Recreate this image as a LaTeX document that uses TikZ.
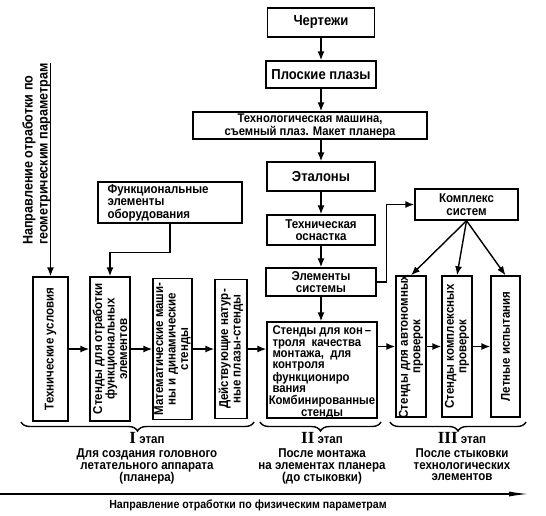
\documentclass[tikz,border=0pt]{standalone}
\usepackage{fontspec}
\setmainfont{Liberation Sans}[FakeStretch=0.9]
\newfontfamily\romfont{Liberation Serif}
\usetikzlibrary{arrows.meta,decorations.pathreplacing,calc}
\begin{document}
\begin{tikzpicture}[x=1pt,y=-1pt,
  box/.style={draw, line width=1.4pt, inner sep=0pt},
  txt/.style={font=\bfseries\fontsize{12.8}{12.5}\selectfont, align=center, inner sep=0pt},
  bigtxt/.style={txt, font=\bfseries\fontsize{14.5}{15}\selectfont},
  rot/.style={txt, rotate=90},
  stage/.style={txt, anchor=north, font=\bfseries\fontsize{12.8}{11.6}\selectfont},
  arr/.style={line width=1.4pt, -{Latex[length=9pt,width=7pt]}},
  brc/.style={decorate, decoration={brace, amplitude=9pt}, line width=1.4pt}]
\useasboundingbox (0,0) rectangle (546,515);
% main chain
\node[box,bigtxt,minimum width=107pt,minimum height=29pt] (chert) at (321,22.5) {Чертежи};
\node[box,bigtxt,minimum width=110pt,minimum height=27pt] (plosk) at (321,74.5) {Плоские плазы};
\node[box,txt,minimum width=234pt,minimum height=27pt,font=\bfseries\fontsize{12.5}{13}\selectfont] (tech) at (310,125.5) {Технологическая машина,\\съемный плаз. Макет планера};
\node[box,bigtxt,minimum width=108pt,minimum height=29pt] (etal) at (321,176.5) {Эталоны};
\node[box,txt,minimum width=108pt,minimum height=30pt] (osn) at (321,230) {Техническая\\оснастка};
\node[box,txt,minimum width=110pt,minimum height=28pt] (elem) at (321,282) {Элементы\\системы};
\node[box,txt,minimum width=103pt,minimum height=31pt] (kompl) at (466.5,204.5) {Комплекс\\систем};
\node[box,minimum width=144pt,minimum height=41pt] (func) at (170,202.5) {};
\node[txt,align=left,anchor=west] (functxt) at ($(func.west)+(10,0)$) {Функциональные\\элементы\\оборудования};
% vertical boxes
\node[box,minimum width=35pt,minimum height=144pt] (tu) at (50.5,349) {};
\node[rot] at (tu) {Технические условия};
\node[box,minimum width=40pt,minimum height=144pt] (st1) at (110,349) {};
\node[rot] at (st1) {Стенды для отработки\\функциональных\\элементов};
\node[box,minimum width=39pt,minimum height=141pt] (mat) at (172.5,349) {};
\node[rot] at (mat) {Математические маши-\\ны и динамические\\стенды};
\node[box,minimum width=32pt,minimum height=139pt] (dei) at (231,349) {};
\node[rot] at (dei) {Действующие натур-\\ные плазы-стенды};
\node[box,minimum width=110pt,minimum height=96pt] (kontr) at (322,370) {};
\node[txt,align=left,anchor=north west,font=\bfseries\fontsize{12.6}{11.3}\selectfont] at ($(kontr.north west)+(6,4.5)$) {Стенды для кон\,--\\троля\ \ качества\\монтажа,\ \ для\\контроля\\функциониро\\вания};
\node[txt,font=\bfseries\fontsize{12.6}{11.4}\selectfont] at ($(kontr.south)+(0,-11.5)$) {Комбинированные\\стенды};
\node[box,minimum width=30pt,minimum height=141pt] (a1) at (411,346.5) {};
\node[rot] at (a1) {Стенды для автономных\\проверок};
\node[box,minimum width=30pt,minimum height=141pt] (a2) at (457,346.5) {};
\node[rot] at (a2) {Стенды комплексных\\проверок};
\node[box,minimum width=29pt,minimum height=141pt] (a3) at (505.5,346.5) {};
\node[rot] at (a3) {Летные испытания};
% chain arrows
\draw[arr] (chert) -- (plosk);
\draw[arr] (plosk) -- (plosk |- tech.north);
\draw[arr] (tech.south -| etal) -- (etal);
\draw[arr] (etal) -- (osn);
\draw[arr] (osn) -- (elem);
\draw[arr] (elem) -- (elem |- kontr.north);
\draw[arr] (elem.east) -- ++(10,0) |- (kompl.west);
\draw[arr] (func.south) -- ++(0,29) -| (st1.north);
\draw[arr] (kompl.south) -- (a1.north);
\draw[arr] (kompl.south) -- (a2.north);
\draw[arr] (kompl.south) -- (a3.north);
% horizontal
\draw[arr] (tu) -- (st1);
\draw[arr] (st1) -- (mat);
\draw[arr] (mat) -- (dei);
\draw[arr] (dei) -- (dei -| kontr.west);
\draw[arr] (a1.west -| kontr.east) -- (a1);
\draw[arr] (a1) -- (a2);
\draw[arr] (a2) -- (a3);
% left direction arrow
\coordinate (gtop) at (50.5,63);
\draw[arr] (gtop) -- (tu.north);
\node[rot,align=left,anchor=west,font=\bfseries\fontsize{14}{15}\selectfont] (geolab) at (36.5,245) {Направление отработки по\\геометрическим параметрам};
% braces
\coordinate (b1l) at (21,422); \coordinate (b1r) at (254,422);
\coordinate (b2l) at (260,422); \coordinate (b2r) at (381,422);
\coordinate (b3l) at (390,422); \coordinate (b3r) at (526,422);
\draw[brc] (b1r) -- (b1l);
\draw[brc] (b2r) -- (b2l);
\draw[brc] (b3r) -- (b3l);
\node[stage] (s1) at (147,432) {{\romfont\fontsize{17}{12}\selectfont I} этап\\[2.5pt]Для создания головного\\летательного аппарата\\(планера)};
\node[stage] (s2) at (322,432) {{\romfont\fontsize{17}{12}\selectfont II} этап\\[2.5pt]После монтажа\\на элементах планера\\(до стыковки)};
\node[stage] (s3) at (462,432) {{\romfont\fontsize{17}{12}\selectfont III} этап\\[2.5pt]После стыковки\\технологических\\элементов};
% bottom arrow
\coordinate (pl) at (0,494); \coordinate (pr) at (529,494);
\draw[line width=1.4pt, -{Latex[length=20pt,width=5pt]}] (pl) -- (pr);
\node[txt,font=\bfseries\fontsize{11.8}{12}\selectfont] (phys) at (248,505) {Направление отработки по физическим параметрам};
\end{tikzpicture}
\end{document}
